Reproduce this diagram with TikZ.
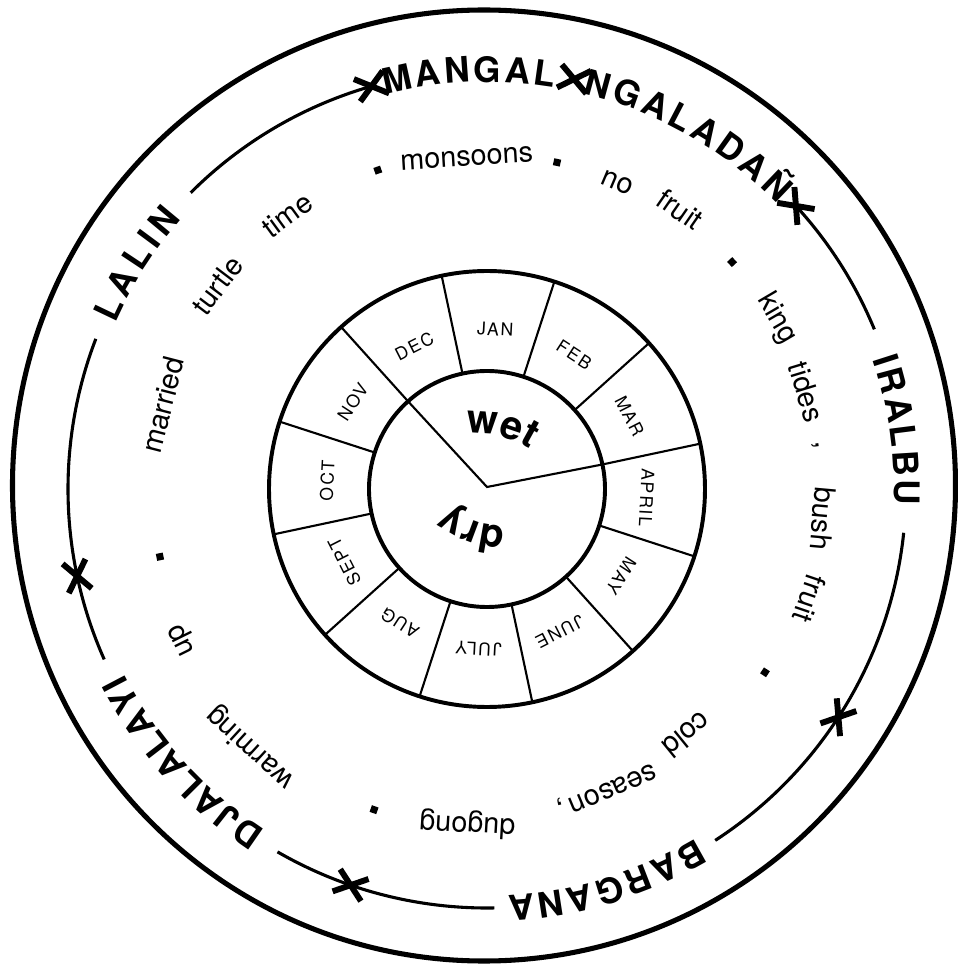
\documentclass[tikz,border=0pt]{standalone}
\usepackage{fontspec}
\setmainfont{TeX Gyre Heros}
\newfontfamily\monthfamily[LetterSpace=10]{TeX Gyre Heros}
\usepackage{tikz}
\usetikzlibrary{decorations.text}
\newcommand{\seasonfont}{\bfseries\fontsize{25}{30}\selectfont}
\newcommand{\wordfont}{\fontsize{20.5}{24}\selectfont}
\newcommand{\monthfont}{\monthfamily\fontsize{12.5}{15}\selectfont}
\newcommand{\wetfont}{\bfseries\fontsize{28.5}{34}\selectfont}

\begin{document}
\begin{tikzpicture}[x=0.025cm,y=0.025cm,
    rim/.style={line width=3.6pt},
    wheel/.style={line width=2.8pt},
    divider/.style={line width=1.5pt},
    seasonarc/.style={line width=2.2pt},
    xmark/.style={line width=4.2pt},
    month/.style={font=\monthfont,inner sep=0pt},
    word/.style={font=\wordfont,inner sep=0pt},
    dot/.style={fill,minimum size=5pt,inner sep=0pt},
    seasontext/.style={decorate,decoration={text along path,
      text={|\seasonfont|#1},text align=fit to path}},
    halftext/.style={decorate,decoration={text along path,
      text={|\wetfont|#1},text align=center}}]

    \useasboundingbox (-487,-476) rectangle (471,489);

    % outer rim
    \draw[rim] (-3,3.5) ellipse [x radius=471.5,y radius=475.5];

    % month wheel
    \coordinate (pivot) at (0,2);
    \draw[wheel] (0,0) circle [radius=218];
    \draw[wheel] (0,0) circle [radius=118];
    \foreach \a in {12,42,...,342}
      \draw[divider] (\a:118) -- (\a:218);
    \draw[divider] (132:118) -- (pivot) -- (12:118);
    \foreach \m/\a in {JAN/87,FEB/57,MAR/27,APRIL/-3,MAY/-33,JUNE/-63,
        JULY/-93,AUG/-123,SEPT/-153,OCT/177,NOV/147,DEC/117}
      \node[month,rotate=\a-90] (\m) at (\a:160) {\m};

    % wet and dry halves
    \path[halftext=wet] (256.4:46) ++(126.4:100)
      arc [start angle=126.4,end angle=26.4,radius=100];
    \path[halftext=dry] (70:76.3) ++(-60:110)
      arc [start angle=-60,end angle=-160,radius=110];

    % what happens in each season
    \foreach \w/\a/\r [count=\i] in {monsoons/93.5/331,no/67/333,
        fruit/55.4/340,king/30.4/336,tides/16.9/334,{,}/7.6/331,
        bush/-5.1/337,fruit/-18.8/341,cold/-50.9/317,season/-67.2/325,
        {,}/-76.9/321,dugong/-93.4/336,warming/-132.5/350,up/-153.7/339,
        married/165.5/335,turtle/142.9/338,time/126.1/339}
      \node[word,rotate=\a-90] (word\i) at (\a:\r) {\w};
    \foreach \a/\r [count=\i] in {108.9/337,77.9/334,42.8/334,
        -33.4/333,-109.4/340,-168.3/334}
      \node[dot,rotate=\a] (dot\i) at (\a:\r) {};

    % season names on the ring
    \path[seasontext=MANGAL] (104.5:407)
      arc [start angle=104.5,end angle=80.5,radius=407];
    \path[seasontext=NGALADAÑ] (76.5:407)
      arc [start angle=76.5,end angle=44.5,radius=407];
    \path[seasontext=IRALBU] (18.5:407)
      arc [start angle=18.5,end angle=-2.2,radius=407];
    \path[seasontext=BARGANA] (-59:407)
      arc [start angle=-59,end angle=-87,radius=407];
    \path[seasontext=DJALALAYI] (-123:407)
      arc [start angle=-123,end angle=-153,radius=407];
    \path[seasontext=LALIN] (156:407)
      arc [start angle=156,end angle=138.5,radius=407];

    % ring arcs between the names
    \draw[seasonarc] (135:419) arc [start angle=135,end angle=106,radius=419];
    \draw[seasonarc] (42.5:419) arc [start angle=42.5,end angle=22.4,radius=419];
    \draw[seasonarc] (-6:419) arc [start angle=-6,end angle=-57,radius=419];
    \draw[seasonarc] (-89:419) arc [start angle=-89,end angle=-120,radius=419];
    \draw[seasonarc] (-156:419) arc [start angle=-156,end angle=-201,radius=419];

    % season boundaries
    \foreach \a in {106,78,42.5,-33,-109,-168} {
      \draw[xmark] (\a:419) ++({\a-52}:19) -- ++({\a-52}:-38);
      \draw[xmark] (\a:419) ++({\a-128}:19) -- ++({\a-128}:-38);
    }
  \end{tikzpicture}
\end{document}
